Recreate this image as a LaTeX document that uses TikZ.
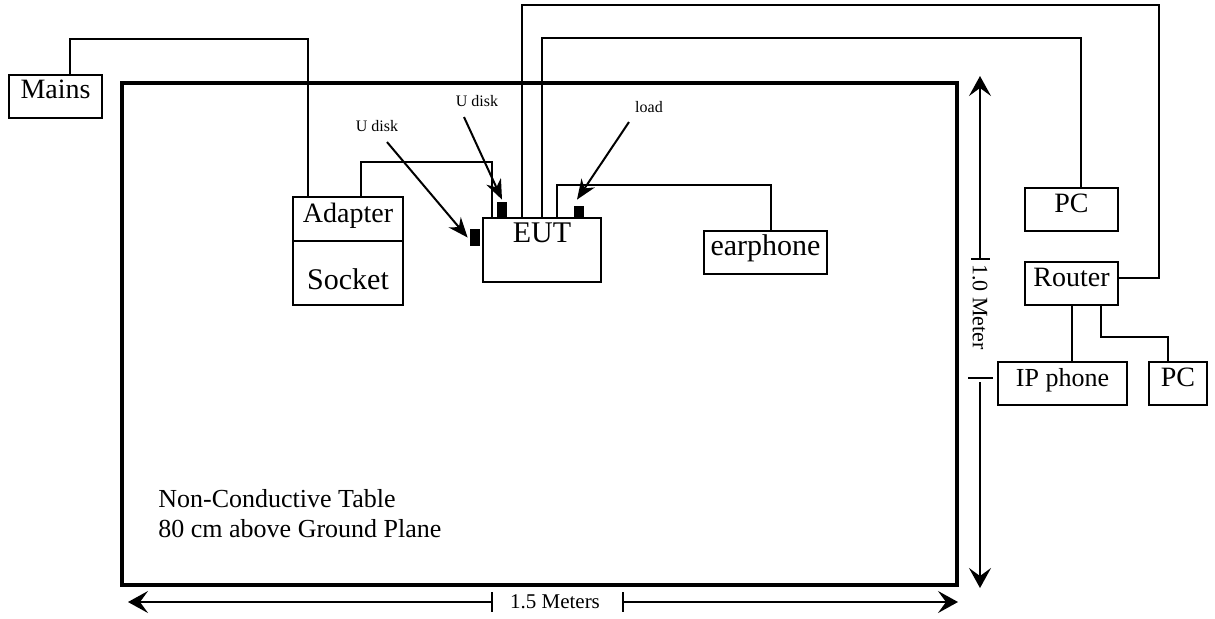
\documentclass[tikz,border=0pt]{standalone}
\usepackage{fontspec}
\setmainfont{Liberation Serif}
\usetikzlibrary{arrows.meta, positioning, calc}

\begin{document}
\begin{tikzpicture}[
  x=0.5pt, y=-0.5pt,
  box/.style={draw, line width=1pt, inner sep=0pt,
    text height=12pt, text depth=9.5pt, font=\fontsize{14}{14}\selectfont},
  plug/.style={fill=black, inner sep=0pt, minimum width=5pt},
  wire/.style={line width=1pt},
  tag/.style={inner sep=0pt, font=\fontsize{8}{8}\selectfont},
  dimlbl/.style={inner sep=0pt, font=\fontsize{10.5}{10.5}\selectfont},
  ptr/.style={line width=1pt, -{Stealth[length=10pt, width=8pt]}},
  dim/.style={line width=1pt, -{Stealth[length=10pt, width=11pt, inset=4pt]}},
  >=Stealth
]
  \useasboundingbox (0,0) rectangle (1215,618);

  % Table
  \draw[line width=1.75pt] (122,83) rectangle (957,585);
  \node[inner sep=0pt, align=left, anchor=north west, font=\fontsize{13}{15}\selectfont]
    (tablenote) at (158,489) {Non-Conductive Table\\80 cm above Ground Plane};

  % Units
  \node[box, minimum width=46.5pt] (mains) at (55.5,96) {Mains};
  \node[box, minimum width=55pt, text height=12.5pt] (adapter) at (348,219) {Adapter};
  \node[box, minimum width=55pt, text height=24pt, text depth=8pt,
    font=\fontsize{15}{15}\selectfont] (socket) at (348,273) {Socket};
  \node[box, minimum width=59pt, text depth=20pt,
    font=\fontsize{15}{15}\selectfont] (eut) at (542,250) {EUT};
  \node[box, minimum width=61.5pt, font=\fontsize{15}{15}\selectfont]
    (earphone) at (765.5,252.5) {earphone};
  \node[box, minimum width=46.5pt] (pc) at (1071.5,209.5) {PC};
  \node[box, minimum width=46.5pt] (router) at (1071.5,283.5) {Router};
  \node[box, minimum width=64.5pt, font=\fontsize{13}{13}\selectfont]
    (ipphone) at (1062.5,383.5) {IP phone};
  \node[box, minimum width=29pt] (pcb) at (1178,383.5) {PC};

  % Plugs on EUT
  \node[plug, minimum height=8.5pt] (usbA) at (475,237.5) {};
  \node[plug, minimum height=8pt] (usbB) at (502,210) {};
  \node[plug, minimum height=5.5pt] (loadplug) at (579,211.5) {};

  % Cables
  \draw[wire] ([xshift=7.25pt]mains.north) -- ++(0,-35) -| ([xshift=-20pt]adapter.north);
  \draw[wire] ([xshift=6.5pt]adapter.north) -- ++(0,-34) -| ([xshift=-25pt]eut.north);
  \draw[wire] ([xshift=-10pt]eut.north) -- ++(0,-212) -- ++(637,0) |- ([yshift=2.75pt]router.east);
  \draw[wire] (eut.north) -- ++(0,-179) -| ([xshift=4.75pt]pc.north);
  \draw[wire] ([xshift=7.5pt]eut.north) -- ++(0,-32) -| ([xshift=2.75pt]earphone.north);
  \draw[wire] (router.south) -- (router.south |- ipphone.north);
  \draw[wire] ([xshift=14.75pt]router.south) -- ++(0,31) -| ([xshift=-5pt]pcb.north);

  % Labels with pointers
  \node[tag] (udiskA) at (377,126) {U disk};
  \node[tag] (udiskB) at (477,101) {U disk};
  \node[tag] (loadtag) at (649,107) {load};
  \draw[ptr] ([xshift=5pt, yshift=-5pt]udiskA.south) -- ([xshift=-1pt]usbA.west);
  \draw[ptr] ([xshift=-6.5pt, yshift=-5pt]udiskB.south) -- ([yshift=1pt]usbB.north);
  \draw[ptr] ([xshift=-10pt, yshift=-4.5pt]loadtag.south) -- ([xshift=-1pt, yshift=3pt]loadplug.north);

  % Height of table
  \node[dimlbl, rotate=-90, font=\fontsize{11}{11}\selectfont] (vdim) at (980,307) {1.0 Meter};
  \coordinate (vtA) at (980,259);
  \coordinate (vtB) at (980,378);
  \coordinate (vtop) at (980,76);
  \coordinate (vbot) at (980,588);
  \draw[dim] (vtA) -- (vtop);
  \draw[dim] ([yshift=-2pt]vtB) -- (vbot);
  \draw[wire] ([xshift=-4.5pt]vtA) -- ([xshift=5pt]vtA);
  \draw[wire] ([xshift=-6pt]vtB) -- ([xshift=6.5pt]vtB);

  % Width of table
  \node[dimlbl] (hdim) at (555,602) {1.5 Meters};
  \coordinate (hl) at (492,602);
  \coordinate (hr) at (623,602);
  \coordinate (hlend) at (128,602);
  \coordinate (hrend) at (958,602);
  \draw[dim] (hl) -- (hlend);
  \draw[dim] (hr) -- (hrend);
  \draw[wire] ([yshift=5pt]hl) -- ([yshift=-5pt]hl);
  \draw[wire] ([yshift=5pt]hr) -- ([yshift=-5pt]hr);
\end{tikzpicture}
\end{document}
